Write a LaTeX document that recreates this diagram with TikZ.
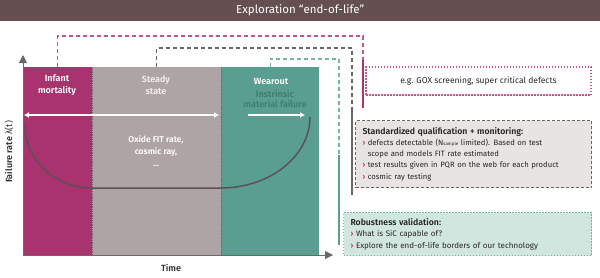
\documentclass[tikz,border=0pt]{standalone}
\usepackage{fontspec}
\setmainfont{Fira Sans}[BoldFont={Fira Sans SemiBold}]
\usetikzlibrary{arrows.meta}
\definecolor{TitleBar}{HTML}{654F51}
\definecolor{InfantCol}{HTML}{A8336F}
\definecolor{SteadyCol}{HTML}{AFA4A5}
\definecolor{WearCol}{HTML}{5A9E91}
\definecolor{SteadyTxt}{HTML}{F2EEEE}
\definecolor{IntrTxt}{HTML}{3F7D71}
\definecolor{AxisCol}{HTML}{6B6768}
\definecolor{TubCol}{HTML}{5C5256}
\definecolor{MagDash}{HTML}{C4558F}
\definecolor{GrayDash}{HTML}{6E6466}
\definecolor{TealDash}{HTML}{72B5A7}
\definecolor{QualFill}{HTML}{E9E4E4}
\definecolor{RobFill}{HTML}{D2E6E0}
\definecolor{BulRed}{HTML}{D0394F}
\newcommand{\bul}{{\color{BulRed}\textbf{›}}\ }
\newcommand{\fs}[2]{\fontsize{#1}{#2}\selectfont}

\begin{document}
\begin{tikzpicture}[x=1pt,y=-1pt,
  region/.style={inner sep=0pt,minimum height=188pt,anchor=north west},
  lbl/.style={font=\fs{9}{11.5}\bfseries,text=white,align=center},
  sep/.style={GrayDash,densely dotted,line width=0.8pt},
  axis/.style={AxisCol,line width=1pt,-{Triangle[length=8pt,width=8pt]}},
  warrow/.style={white,line width=1.2pt},
  linkdash/.style={line width=1.2pt,dash pattern=on 4pt off 3pt},
  linkbar/.style={line width=1.2pt},
  infobox/.style={anchor=north west,align=left,text=black!85,inner xsep=7pt,inner ysep=0pt}]
  \useasboundingbox (0,0) rectangle (600,277);
  \node[fill=TitleBar,text=white,font=\fs{11.5}{13},minimum width=600pt,minimum height=21pt,anchor=north west,inner sep=0pt] (title) at (0,0) {Exploration “end-of-life”};
  \node[region,fill=InfantCol,minimum width=69pt] (infant) at (23,67) {};
  \node[region,fill=SteadyCol,minimum width=129pt] (steady) at (92,67) {};
  \node[region,fill=WearCol,minimum width=98pt] (wearout) at (221,67) {};
  \draw[sep] (steady.north west) -- (steady.south west);
  \draw[sep] (steady.north east) -- (steady.south east);
  \coordinate (origin) at (23,255);
  \coordinate (ytip) at (23,55);
  \coordinate (xtip) at (333,255);
  \draw[axis] (origin) -- (ytip);
  \draw[axis] (origin) -- (xtip);
  \node[lbl] (infantlbl) at (57,85) {Infant\\mortality};
  \node[lbl,text=SteadyTxt] (steadylbl) at (156,85) {Steady\\state};
  \node[lbl] (wearlbl) at (271,81) {Wearout};
  \node[lbl,font=\fs{9}{10.5}\bfseries,text=IntrTxt] (intrlbl) at (275,99) {Instrinsic\\material failure};
  \coordinate (hl) at (24,115);
  \coordinate (hr) at (219,115);
  \draw[warrow,{Latex[length=5pt,width=6pt]}-{Latex[length=5pt,width=6pt]}] (hl) -- (hr);
  \coordinate (wl) at (248,115);
  \coordinate (wr) at (305,115);
  \draw[warrow,-{Latex[length=5pt,width=6pt]}] (wl) -- (wr);
  \node[lbl,font=\fs{8.5}{12}\bfseries] (oxidelbl) at (156,151) {Oxide FIT rate,\\cosmic ray,\\\dots};
  \draw[TubCol,line width=1.5pt] (25,125) .. controls (25,160) and (55,188) .. (92,188) -- (221,188) .. controls (270,188) and (310,156) .. (310,117);
  \node[font=\fs{9}{10}\bfseries,text=black!80] (timelbl) at (171,268) {Time};
  \node[font=\fs{9}{10},rotate=90,text=black!80] (ratelbl) at (9,152) {\textbf{Failure rate} λ(t)};
  \node[draw=MagDash,dash pattern=on 1.5pt off 1.5pt,line width=1.2pt,minimum width=225pt,minimum height=28pt,font=\fs{8.5}{10},text=black!85] (gox) at (478.5,81) {e.g. GOX screening, super critical defects};
  \node[infobox,font=\fs{7.7}{11.3},fill=QualFill,draw=GrayDash,dash pattern=on 3pt off 2pt,line width=1pt,text width=222pt,minimum height=67pt] (qual) at (355,120)
    {{\fs{8.7}{11.3}\textbf{Standardized qualification + monitoring:}}\\
     \bul defects detectable (N{\fs{4.5}{5}sample} limited). Based on test\\
     \hphantom{\bul}scope and models FIT rate estimated\\
     \bul test results given in PQR on the web for each product\\
     \bul cosmic ray testing};
  \node[infobox,font=\fs{8}{11.5},fill=RobFill,draw=TealDash,dash pattern=on 1.5pt off 1.5pt,line width=1pt,text width=234pt,minimum height=43pt] (robust) at (343,212)
    {{\fs{8.7}{11.5}\textbf{Robustness validation:}}\\
     \bul What is SiC capable of?\\
     \bul Explore the end-of-life borders of our technology};
  \coordinate (magturn) at (363,36);
  \coordinate (magbartop) at (363,60);
  \coordinate (magbarbot) at (363,108);
  \draw[linkdash,MagDash] (infant.north) |- (magturn) -- (magbartop);
  \draw[linkbar,InfantCol] (magbartop) -- (magbarbot);
  \coordinate (grayturn) at (352,48);
  \coordinate (graybartop) at (352,108);
  \coordinate (graybarbot) at (352,195);
  \draw[linkdash,GrayDash] (steady.north) |- (grayturn) -- (graybartop);
  \draw[linkbar,GrayDash] (graybartop) -- (graybarbot);
  \coordinate (tealturn) at (339,59);
  \coordinate (tealbartop) at (339,155);
  \coordinate (tealbarbot) at (339,245);
  \draw[linkdash,TealDash] (wearout.north) |- (tealturn) -- (tealbartop);
  \draw[linkbar,WearCol] (tealbartop) -- (tealbarbot);
\end{tikzpicture}
\end{document}
